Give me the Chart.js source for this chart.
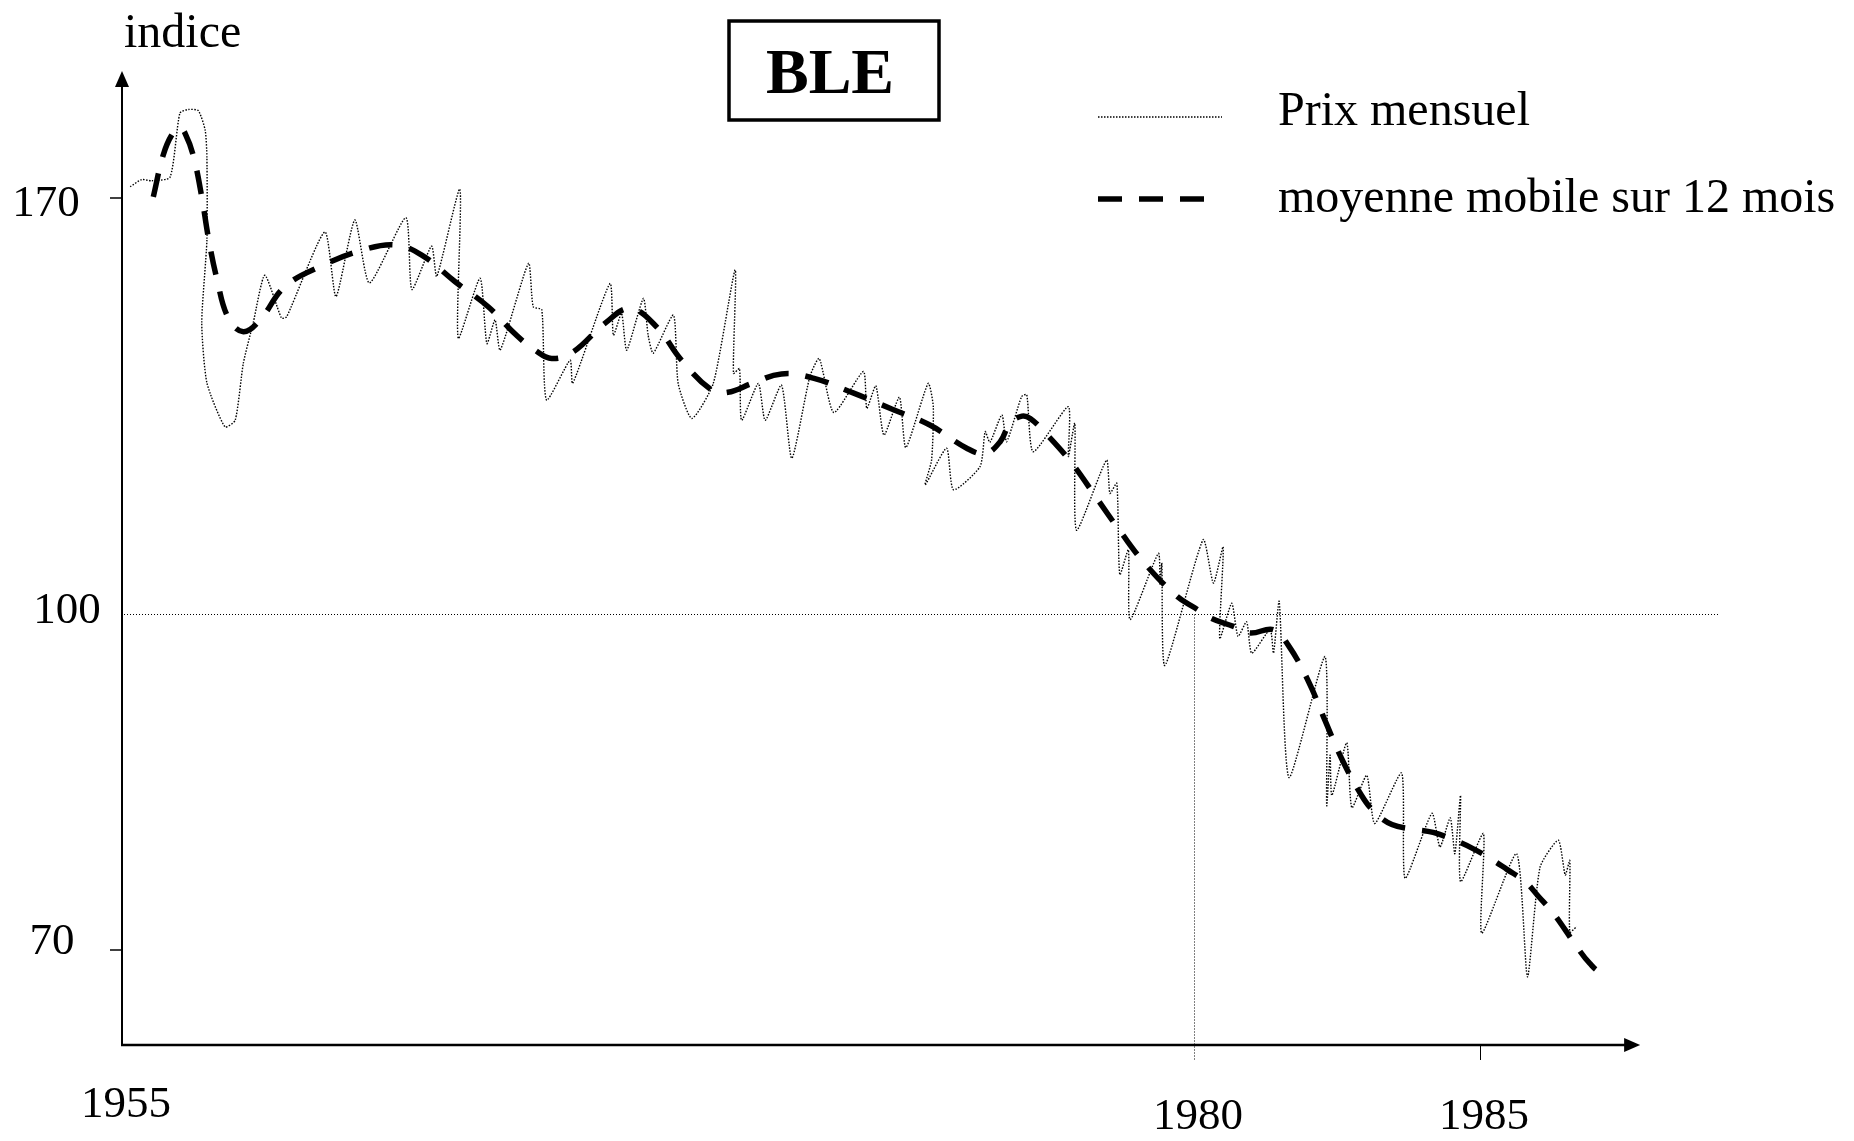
<!DOCTYPE html>
<html>
<head>
<meta charset="utf-8">
<script src="https://cdn.jsdelivr.net/npm/chart.js@4.4.1/dist/chart.umd.min.js"></script>
<style>
  html, body { margin: 0; padding: 0; background: #fff; }
  canvas { display: block; }
</style>
</head>
<body>
<canvas id="bleChart" width="1854" height="1141"></canvas>
<script>
// prix mensuel (indice)
const prixYears = [
  1955.19, 1955.46, 1955.69, 1956.12, 1956.35, 1956.55, 1956.78, 1956.94, 1956.98, 1956.98,
  1956.86, 1956.98, 1957.40, 1957.64, 1957.83, 1958.06, 1958.33, 1958.72, 1958.84, 1959.73,
  1959.99, 1960.43, 1960.77, 1961.62, 1961.76, 1962.22, 1962.34, 1962.88, 1962.84, 1963.35,
  1963.51, 1963.70, 1963.82, 1964.48, 1964.59, 1964.79, 1964.90, 1965.45, 1965.51, 1966.38,
  1966.46, 1966.65, 1966.77, 1967.16, 1967.27, 1967.39, 1967.86, 1967.97, 1968.29, 1968.79,
  1969.30, 1969.26, 1969.40, 1969.45, 1969.84, 1970.00, 1970.38, 1970.62, 1971.04, 1971.26,
  1971.60, 1972.29, 1972.37, 1972.58, 1972.77, 1973.13, 1973.28, 1973.80, 1973.92, 1973.88,
  1973.73, 1974.23, 1974.39, 1975.01, 1975.13, 1975.24, 1975.52, 1975.63, 1975.98, 1976.10,
  1976.25, 1977.07, 1977.07, 1977.22, 1977.26, 1977.96, 1978.04, 1978.20, 1978.27, 1978.47,
  1978.51, 1979.17, 1979.21, 1979.25, 1979.32, 1980.16, 1980.34, 1980.51, 1980.45, 1980.66,
  1980.77, 1980.92, 1981.01, 1981.33, 1981.39, 1981.49, 1981.66, 1982.29, 1982.32, 1982.38,
  1982.41, 1982.67, 1982.76, 1983.02, 1983.16, 1983.63, 1983.69, 1984.16, 1984.30, 1984.48,
  1984.56, 1984.66, 1984.66, 1985.06, 1985.03, 1985.64, 1985.83, 1986.05, 1986.37, 1986.49,
  1986.57, 1986.57, 1986.69
];
const prixValues = [
  171.9, 173.1, 172.9, 173.5, 184.3, 184.9, 184.7, 181.4, 176.9, 162.9,
  149.0, 138.9, 131.5, 132.6, 142.2, 149.0, 157.0, 149.8, 150.0, 164.3,
  153.4, 166.3, 155.7, 166.7, 154.6, 161.9, 156.8, 171.5, 146.4, 156.5,
  145.5, 149.5, 144.4, 159.0, 151.7, 151.2, 136.0, 142.7, 138.8, 155.6,
  146.9, 150.6, 144.4, 153.1, 146.9, 143.9, 150.3, 138.8, 132.9, 138.8,
  157.9, 140.5, 141.3, 132.6, 138.8, 132.6, 138.5, 126.2, 139.9, 143.0,
  133.9, 140.8, 134.6, 138.4, 130.1, 136.5, 128.0, 138.8, 134.9, 125.9,
  121.7, 127.9, 120.9, 124.8, 130.7, 128.9, 133.5, 129.0, 136.6, 136.9,
  127.3, 134.9, 126.5, 132.1, 114.1, 125.9, 120.3, 122.0, 106.6, 110.8,
  99.5, 110.2, 104.9, 108.6, 95.4, 112.5, 105.2, 111.3, 97.8, 101.8,
  98.0, 99.3, 96.5, 98.6, 96.5, 102.1, 85.4, 96.2, 82.9, 87.4,
  83.8, 88.5, 82.7, 85.6, 81.3, 85.8, 76.4, 82.2, 79.2, 81.8,
  78.6, 83.8, 76.1, 80.4, 71.5, 78.6, 67.6, 77.4, 79.8, 76.7,
  78.0, 71.6, 72.1
];

// moyenne mobile sur 12 mois
const mmYears = [
  1955.73, 1955.96, 1956.16, 1956.35, 1956.47, 1956.66, 1956.86, 1957.01, 1957.21, 1957.48,
  1957.83, 1958.22, 1958.80, 1959.69, 1960.59, 1961.37, 1961.99, 1962.77, 1963.54, 1964.20,
  1964.63, 1965.02, 1965.52, 1966.26, 1966.85, 1967.47, 1968.05, 1968.75, 1969.13, 1969.69,
  1970.38, 1971.12, 1972.05, 1972.95, 1973.84, 1974.70, 1975.13, 1975.48, 1975.71, 1975.99,
  1976.18, 1976.53, 1977.15, 1977.73, 1978.31, 1978.90, 1979.60, 1980.02, 1980.31, 1980.69,
  1980.98, 1981.39, 1981.65, 1982.00, 1982.29, 1982.58, 1982.93, 1983.16, 1983.46, 1983.81,
  1984.18, 1984.51, 1984.86, 1985.17, 1985.47, 1985.79, 1986.02, 1986.28, 1986.49, 1986.69,
  1986.92, 1987.10, 1987.24
];
const mmValues = [
  170.2, 177.2, 180.6, 181.8, 180.9, 177.2, 170.2, 163.5, 156.5, 149.8,
  147.5, 149.5, 155.1, 158.7, 161.2, 162.1, 160.4, 155.9, 151.7, 146.9,
  144.4, 143.0, 144.1, 148.9, 151.4, 148.3, 142.7, 137.7, 137.3, 138.8,
  140.4, 139.7, 137.2, 134.5, 131.8, 127.9, 127.0, 129.0, 132.1, 133.3,
  132.9, 130.5, 125.4, 119.5, 113.6, 108.1, 103.0, 101.0, 99.6, 98.9,
  98.3, 98.6, 97.2, 94.0, 90.5, 87.1, 83.8, 82.3, 81.2, 80.8,
  80.5, 79.9, 79.1, 78.2, 77.2, 76.1, 74.8, 73.3, 71.8, 70.3,
  68.8, 68.1, 68.7
];

const yTicks = [170, 100, 70];
const xTicks = [1955, 1980, 1985];

// the original axes are not evenly spaced: piecewise linear between the labelled ticks
const knots = {
  x: [[1955, 0], [1980, 1072], [1985, 1358]],
  y: [[70, 0], [100, 336], [170, 752]]
};

class BrokenScale extends Chart.LinearScale {
  warp(v) {
    const k = knots[this.id];
    let i = 0;
    while (i < k.length - 2 && v > k[i + 1][0]) i++;
    const [v0, p0] = k[i], [v1, p1] = k[i + 1];
    return p0 + (v - v0) * (p1 - p0) / (v1 - v0);
  }
  getPixelForValue(value) {
    if (value === null || value === undefined) return NaN;
    const a = this.warp(this.min), b = this.warp(this.max);
    return this.getPixelForDecimal((this.warp(value) - a) / (b - a));
  }
}
BrokenScale.id = 'broken';
BrokenScale.defaults = Chart.LinearScale.defaults;
Chart.register(BrokenScale);

const SERIF = '"Liberation Serif", "Times New Roman", serif';

const decor = {
  id: 'decor',
  beforeDatasetsDraw(chart) {
    const {ctx, scales: {x, y}} = chart;
    const x0 = x.getPixelForValue(x.min), y0 = y.getPixelForValue(y.min);
    const y100 = Math.round(y.getPixelForValue(100)) + 0.5;
    const x80 = Math.round(x.getPixelForValue(1980)) + 0.5;
    ctx.save();
    ctx.strokeStyle = '#000';
    ctx.lineWidth = 1;
    ctx.setLineDash([1, 2]);
    ctx.beginPath();
    ctx.moveTo(x0 + 2, y100); ctx.lineTo(x.right, y100);
    ctx.moveTo(x80, y100); ctx.lineTo(x80, y0 + 15);
    ctx.stroke();
    ctx.restore();
  },
  afterDatasetsDraw(chart) {
    const {ctx, scales: {x, y}} = chart;
    const x0 = x.getPixelForValue(x.min), y0 = y.getPixelForValue(y.min);
    const xEnd = x.getPixelForValue(1987.8);
    ctx.save();
    ctx.strokeStyle = '#000';
    ctx.fillStyle = '#000';
    ctx.setLineDash([]);

    // axes with arrow heads
    ctx.lineWidth = 2;
    ctx.beginPath(); ctx.moveTo(x0, y0); ctx.lineTo(x0, y.top + 12); ctx.stroke();
    ctx.beginPath();
    ctx.moveTo(x0, y.top); ctx.lineTo(x0 - 7, y.top + 16); ctx.lineTo(x0 + 7, y.top + 16);
    ctx.closePath(); ctx.fill();
    ctx.lineWidth = 2.5;
    ctx.beginPath(); ctx.moveTo(x0 - 1, y0); ctx.lineTo(xEnd - 12, y0); ctx.stroke();
    ctx.beginPath();
    ctx.moveTo(xEnd, y0); ctx.lineTo(xEnd - 16, y0 - 7); ctx.lineTo(xEnd - 16, y0 + 7);
    ctx.closePath(); ctx.fill();

    // tick marks
    ctx.lineWidth = 1.5;
    [170, 70].forEach(v => {
      const py = y.getPixelForValue(v);
      ctx.beginPath(); ctx.moveTo(x0 - 12, py); ctx.lineTo(x0, py); ctx.stroke();
    });
    ctx.lineWidth = 1;
    const p85 = Math.round(x.getPixelForValue(1985)) + 0.5;
    ctx.beginPath(); ctx.moveTo(p85, y0); ctx.lineTo(p85, y0 + 15); ctx.stroke();

    // tick labels (placed as in the original)
    ctx.font = '45px ' + SERIF;
    ctx.textAlign = 'center';
    ctx.textBaseline = 'middle';
    const yOff = {170: [-76, 6], 100: [-55, -3], 70: [-70, -8]};
    yTicks.forEach(v => {
      const [dx, dy] = yOff[v];
      ctx.fillText(String(v), x0 + dx, y.getPixelForValue(v) + dy);
    });
    const xOff = {1955: 60, 1980: 72, 1985: 72};
    xTicks.forEach(v => {
      ctx.fillText(String(v), x.getPixelForValue(v) + 4, y0 + xOff[v]);
    });

    // axis name
    ctx.font = '48px ' + SERIF;
    ctx.textAlign = 'left';
    ctx.textBaseline = 'alphabetic';
    ctx.fillText('indice', 124, 47);

    // boxed title
    ctx.lineWidth = 3.5;
    ctx.strokeRect(729, 21, 210, 99);
    ctx.font = 'bold 64px ' + SERIF;
    ctx.textAlign = 'center';
    ctx.fillText('BLE', 830, 93);

    // legend
    const rows = [[117, 1222, 125], [199, 1206, 212]];
    chart.data.datasets.forEach((ds, i) => {
      const [ly, lx2, tb] = rows[i];
      ctx.save();
      ctx.lineWidth = ds.borderWidth;
      ctx.setLineDash(ds.borderDash);
      ctx.lineCap = 'butt';
      ctx.beginPath(); ctx.moveTo(1098, ly); ctx.lineTo(lx2, ly); ctx.stroke();
      ctx.restore();
      ctx.font = '48px ' + SERIF;
      ctx.textAlign = 'left';
      ctx.fillText(ds.label, 1278, tb);
    });
    ctx.restore();
  }
};

new Chart(document.getElementById('bleChart'), {
  type: 'line',
  data: {
    datasets: [
      {
        label: 'Prix mensuel',
        data: prixYears.map((yr, i) => ({x: yr, y: prixValues[i]})),
        borderColor: '#000',
        borderWidth: 1.4,
        borderDash: [1.5, 1.5],
        pointRadius: 0,
        tension: 0.2,
        fill: false
      },
      {
        label: 'moyenne mobile sur 12 mois',
        data: mmYears.map((yr, i) => ({x: yr, y: mmValues[i]})),
        borderColor: '#000',
        borderWidth: 5.5,
        borderDash: [24, 17],
        borderCapStyle: 'butt',
        pointRadius: 0,
        tension: 0.4,
        fill: false
      }
    ]
  },
  options: {
    responsive: false,
    animation: false,
    events: [],
    layout: {padding: {left: 122, right: 134, top: 71, bottom: 96}},
    plugins: {legend: {display: false}, tooltip: {enabled: false}, title: {display: false}},
    scales: {
      x: {type: 'broken', min: 1955, max: 1989.196, display: false},
      y: {type: 'broken', min: 61.518, max: 191.37, display: false}
    }
  },
  plugins: [decor]
});
</script>
</body>
</html>
